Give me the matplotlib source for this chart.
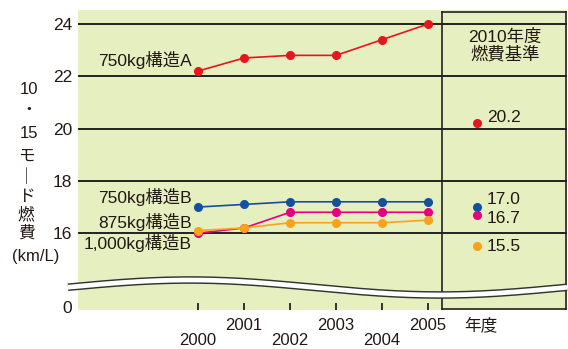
import numpy as np
from matplotlib import pyplot as plt

plt.rcParams['font.family'] = ['Liberation Sans', 'Noto Sans CJK JP', 'DejaVu Sans']

TEXT = '#231815'
BG = '#e6efbf'

years = [2000, 2001, 2002, 2003, 2004, 2005]

# 10・15モード燃費 (km/L)
names = ['750kg構造A', '750kg構造B', '875kg構造B', '1,000kg構造B']
colors = ['#e8141e', '#1450a0', '#e5007e', '#f8a31b']
fuel_a750 = [22.2, 22.7, 22.8, 22.8, 23.4, 24.0]
fuel_b750 = [17.0, 17.1, 17.2, 17.2, 17.2, 17.2]
fuel_b875 = [16.0, 16.2, 16.8, 16.8, 16.8, 16.8]
fuel_b1000 = [16.1, 16.2, 16.4, 16.4, 16.4, 16.5]

# 2010年度燃費基準
standard = [20.2, 17.0, 16.7, 15.5]

ytick_vals = [16, 18, 20, 22, 24]

# layout (break in the axis: "0" sits just above the bottom)
ZERO_POS = 13.18
STD_X = 2006.07
BOX_X = 2005.30
BOX_R = 2008.0
label_y = [22.62, 17.39, 16.43, 15.63]
std_label_y = [20.44, 17.27, 16.55, 15.51]

fig = plt.figure(figsize=(5.68, 3.49), dpi=100)
ax = fig.add_axes([78 / 568, 39 / 349, 489 / 568, 300 / 349])
ax.set_facecolor(BG)
ax.set_xlim(1997.39, 2008.02)
ax.set_ylim(13.063, 24.535)
for s in ax.spines.values():
    s.set_visible(False)

for v in ytick_vals:
    ax.axhline(v, color='#222222', lw=1.4, zorder=1)

# 2010 box
ax.plot([BOX_X, BOX_X], [13.1, 24.46], color='#222222', lw=1.2, zorder=1)
ax.plot([BOX_R, BOX_R], [13.1, 24.46], color='#222222', lw=1.2, zorder=1)
ax.plot([BOX_X, BOX_R], [24.46, 24.46], color='#222222', lw=1.2, zorder=1)
ax.plot([BOX_X, BOX_R], [13.1, 13.1], color='#222222', lw=1.2, zorder=1)

series = [fuel_a750, fuel_b750, fuel_b875, fuel_b1000]
for i, ys in enumerate(series):
    ax.plot(years, ys, color=colors[i], lw=1.2, marker='o', ms=5.5,
            mec=colors[i], zorder=3 + i)
    ax.text(1999.87, label_y[i], names[i], ha='right', va='center',
            fontsize=12.5, color=TEXT, zorder=2,
            bbox=dict(facecolor=BG, edgecolor='none', pad=0.2))

for i, v in enumerate(standard):
    ax.plot(STD_X, v, 'o', color=colors[i], ms=5.5, zorder=3)
    ax.text(STD_X + 0.21, std_label_y[i], f'{v:.1f}', ha='left', va='center',
            fontsize=12.5, color=TEXT)

ax.text(2006.67, 23.16, '2010年度\n燃費基準', ha='center', va='center',
        fontsize=12.5, color=TEXT, linespacing=1.1)

# ticks
ax.set_yticks([ZERO_POS] + ytick_vals, labels=['0'] + [str(v) for v in ytick_vals])
ax.tick_params(axis='y', length=0, pad=4, labelsize=12.5, labelcolor=TEXT)
ax.set_xticks(years, labels=[('\n' if i % 2 == 0 else '') + str(y)
                             for i, y in enumerate(years)])
ax.tick_params(axis='x', direction='in', length=5, width=1.3, color='#222222',
               pad=6, labelsize=12, labelcolor=TEXT)
for t in ax.get_xticklabels():
    t.set_linespacing(1.0)
ax.text(STD_X + 0.07, -0.025, '年度', transform=ax.get_xaxis_transform(),
        ha='center', va='top', fontsize=12, color=TEXT)

# axis break wave
wx = np.linspace(68, 567, 200)
wy = 287.5 - 7.5 * np.cos(np.pi * (wx - 190) / 250)
ax.plot((wx - 78) / 489, (310 - wy) / 300, transform=ax.transAxes,
        color='#333333', lw=5.5, clip_on=False, zorder=10, solid_capstyle='butt')
ax.plot((wx - 78) / 489, (310 - wy) / 300, transform=ax.transAxes,
        color='white', lw=3.4, clip_on=False, zorder=11, solid_capstyle='butt')

# vertical y label
ylab = [('10', 29, 90), ('・', 29, 110), ('15', 29, 133), ('モ', 26, 156),
        ('｜', 26, 177), ('ド', 26, 196), ('燃', 26, 214), ('費', 26, 233),
        ('(km/L)', 36, 257)]
for s, px, py in ylab:
    fig.text(px / 568, 1 - py / 349, s, ha='center', va='center',
             fontsize=12, color=TEXT)

plt.savefig('out.png')
plt.close()
